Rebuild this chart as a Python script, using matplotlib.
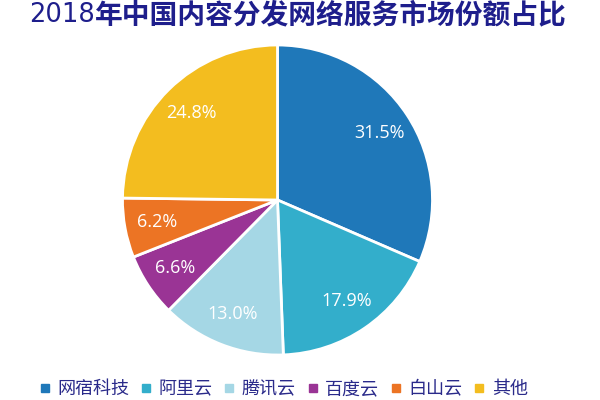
import matplotlib
matplotlib.use("Agg")
import matplotlib.pyplot as plt
from matplotlib.lines import Line2D

plt.rcParams['font.family'] = ['Noto Sans CJK SC', 'DejaVu Sans']

title_year = "2018"
title_rest = "年中国内容分发网络服务市场份额占比"
categories = ["网宿科技", "阿里云", "腾讯云", "百度云", "白山云", "其他"]
shares = [31.5, 17.9, 13.0, 6.6, 6.2, 24.8]
colors = ["#1F78B9", "#33AECB", "#A5D7E5", "#9A3495", "#EC7424", "#F3BD1F"]

W, H = 600, 400
fig = plt.figure(figsize=(6, 4), dpi=100)
fig.patch.set_facecolor("white")

cx, cy, r = 277.5, 200, 155
ax = fig.add_axes([(cx - r) / W, (H - cy - r) / H, 2 * r / W, 2 * r / H])
wedges, texts, autotexts = ax.pie(
    shares, colors=colors, startangle=90, counterclock=False,
    autopct=lambda p: f"{p:.1f}%", pctdistance=0.79,
    wedgeprops=dict(edgecolor="white", linewidth=2),
    textprops=dict(color="white", fontsize=13, family=["Open Sans", "DejaVu Sans"]),
)
ax.set_xlim(-1.0, 1.0)
ax.set_ylim(-1.0, 1.0)
ax.set_aspect("equal")
ax.axis("off")

# Title: year in regular weight, rest in bold
title_color = "#1E1E8C"
ty = 1 - 15 / H
t1 = fig.text(29 / W, ty, title_year, ha="left", va="center",
              fontsize=18.5, color=title_color, family=["DejaVu Sans"])
fig.canvas.draw()
bb = t1.get_window_extent(renderer=fig.canvas.get_renderer())
fig.text(bb.x1 / W, ty, title_rest, ha="left", va="center",
         fontsize=20, fontweight="bold", color=title_color)

handles = [Line2D([0], [0], marker="s", linestyle="none", markersize=6,
                  markerfacecolor=c, markeredgecolor=c) for c in colors]
fig.legend(handles, categories, loc="center", ncol=6,
           bbox_to_anchor=(284 / W, 1 - 389 / H), frameon=False,
           fontsize=13, handlelength=0.5, handletextpad=0.45,
           columnspacing=0.67, labelcolor="#2A2A8A",
           borderpad=0.0)

fig.savefig("out.png", dpi=100, facecolor="white")
